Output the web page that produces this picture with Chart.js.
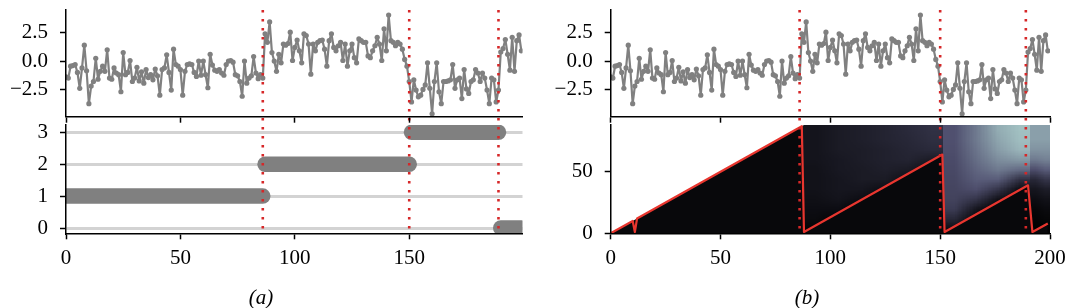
<!DOCTYPE html>
<html>
<head>
<meta charset="utf-8">
<script src="https://cdn.jsdelivr.net/npm/chart.js@4.4.1/dist/chart.umd.min.js"></script>
<style>
  html, body { margin: 0; padding: 0; background: #fff; }
  #fig { position: relative; width: 1075px; height: 308px; overflow: hidden; }
  canvas { position: absolute; }
  .cap { position: absolute; top: 285px; font: italic 21px "Liberation Serif", "DejaVu Serif", serif; line-height: 24px; transform: translateX(-50%); }
</style>
</head>
<body>
<div id="fig">
  <canvas id="aTop" width="540" height="126" style="left:0;top:0"></canvas>
  <canvas id="aBottom" width="540" height="187" style="left:0;top:121px"></canvas>
  <canvas id="bTop" width="535" height="126" style="left:540px;top:0"></canvas>
  <canvas id="bBottom" width="535" height="187" style="left:540px;top:121px"></canvas>
  <div class="cap" style="left:261px">(a)</div>
  <div class="cap" style="left:807px">(b)</div>
</div>
<script>
// observed signal, one value per time step (0..199)
const signal = [
  -1.4, -1.5, -0.45, -0.4, -0.3, -1.0, -2.4, -0.6, 1.4, -0.85,
  -3.75, -2.2, -1.8, 0.25, -1.6, -0.9, -0.45, -0.9, 1.0, -1.5,
  -1.6, -0.6, -1.05, -1.2, -2.7, 0.75, -1.2, -1.0, 0.05, -1.8,
  -1.5, -0.55, -1.75, -0.95, -1.95, -0.75, -1.45, -1.2, -1.65, -0.7,
  -1.3, -3.0, -0.75, -0.6, 0.55, -1.0, -2.55, 1.05, -0.3, -0.45,
  -0.75, -3.0, -0.9, -0.3, -0.25, -0.3, -1.0, -1.35, 0.0, -1.25,
  0.0, -1.2, -2.35, 0.6, -0.35, -0.8, -0.9, -0.75, -1.05, -1.25,
  -0.3, 0.0, 0.05, -0.1, -1.2, -1.3, -1.8, -3.1, 0.0, -1.95,
  -1.5, -1.3, 0.4, -1.05, -1.55, -1.2, -1.5,
  2.4, 1.65, 3.45, 0.75, 0.0, -0.9, 0.6, -0.15, 1.5, 1.4,
  1.55, 2.55, 0.05, 1.2, 1.85, 0.9, -0.15, 2.4, 2.25, 1.5,
  -1.15, 1.5, 0.9, 1.65, 1.8, 1.85, 1.05, -0.45, 1.8, 2.4,
  1.2, 0.9, 1.35, 1.65, 0.05, 1.5, -0.45, 0.9, 1.5, 0.3,
  -0.15, 1.95, 1.8, 1.65, 1.65, 0.45, 0.3, 0.9, 1.35, 2.1,
  1.5, 0.05, 2.85, 0.9, 4.05,
  1.8, 1.65, 1.35, 1.65, 1.5, 1.05, 0.15, -0.45,
  -1.8,
  -3.6, -1.65, -2.55, -3.15, -3.0, -2.5, -2.1, -0.15, -2.4, -4.65,
  -1.8, -0.15, -2.7, -3.75, -1.8, -1.8, -1.75, -1.65, -0.3, -2.4,
  -1.65, -1.5, -3.3, -0.75, -2.45, -2.85, -1.8, -1.65, -0.75, -1.05,
  -1.8, -1.05, -1.5, -2.55, -3.75, -1.5, -1.65, -3.6,
  -2.55, 0.8, 1.1, 1.9, 0.6, -0.8, 2.1, -0.9, 1.8, 2.3, 0.9,
];

const changePoints = [86, 150, 189];

// true regimes (panel a, bottom)
const regimeLevel = [1, 2, 3, 0];
const regimeStart = [0, 87, 151, 190];
const regimeEnd = [86, 150, 189, 199];

// most probable run length (panel b, bottom), vertices of the red line
const runT = [0, 10, 11, 12, 87, 88, 151, 152, 190, 192, 199];
const runR = [0, 10, 1, 12, 87, 1, 64, 1, 39, 1, 8];

// run length posterior, coarse cells (rows: top r=88 -> r=0)
const heatTop = 88;
const heatStart = [0, 87.5, 151.5, 191];
const heatEnd = [87.5, 151.5, 191, 200];
const heatA = [[0.03]];
const heatB = [
  [0.09, 0.12, 0.14, 0.16, 0.19, 0.22],
  [0.09, 0.12, 0.14, 0.16, 0.18, 0.21],
  [0.09, 0.12, 0.13, 0.15, 0.17, 0.19],
  [0.09, 0.11, 0.13, 0.15, 0.16, 0.12],
  [0.08, 0.11, 0.12, 0.14, 0.12, 0.05],
  [0.08, 0.10, 0.12, 0.12, 0.06, 0.00],
  [0.08, 0.10, 0.10, 0.06, 0.00, 0.00],
  [0.07, 0.09, 0.06, 0.00, 0.00, 0.00],
  [0.06, 0.06, 0.00, 0.00, 0.00, 0.00],
  [0.05, 0.02, 0.00, 0.00, 0.00, 0.00],
  [0.02, 0.00, 0.00, 0.00, 0.00, 0.00],
];
const heatC = [
  [0.36, 0.50, 0.66, 0.73],
  [0.36, 0.50, 0.64, 0.72],
  [0.35, 0.48, 0.61, 0.69],
  [0.34, 0.46, 0.56, 0.60],
  [0.33, 0.43, 0.50, 0.45],
  [0.32, 0.40, 0.40, 0.22],
  [0.31, 0.35, 0.24, 0.06],
  [0.30, 0.24, 0.08, 0.00],
  [0.27, 0.10, 0.00, 0.00],
  [0.18, 0.03, 0.00, 0.00],
  [0.06, 0.00, 0.00, 0.00],
];
const heatD = [
  [0.62, 0.62], [0.62, 0.62], [0.58, 0.58], [0.50, 0.52], [0.35, 0.40], [0.18, 0.24],
  [0.10, 0.13], [0.06, 0.08], [0.03, 0.05], [0.02, 0.03], [0.00, 0.01],
];
const heatGrids = [heatA, heatB, heatC, heatD];

// tick labels
const xTicksA = [0, 50, 100, 150];
const xTicksB = [0, 50, 100, 150, 200];
const yTicksSignal = [-2.5, 0, 2.5];
const yTicksRegime = [0, 1, 2, 3];
const yTicksRun = [0, 50];

const GRAY = "#808080";
const RED = "#d62728";
const INK = "#000";
const FONT = { family: "'Liberation Serif', 'DejaVu Serif', serif", size: 21 };
const SPLIT = 121; // page y where the upper canvases hand over to the lower ones

// matplotlib "bone" colormap
const boneStops = [
  [0, [0, 0, 0]],
  [0.365, [81, 81, 113]],
  [0.746, [166, 198, 198]],
  [1, [255, 255, 255]],
];
function bone(v) {
  for (let i = 1; i < boneStops.length; i++) {
    const [v1, c1] = boneStops[i];
    const [v0, c0] = boneStops[i - 1];
    if (v <= v1) {
      const f = (v - v0) / (v1 - v0);
      return c0.map((c, k) => Math.round(c + (c1[k] - c) * f));
    }
  }
  return [255, 255, 255];
}

const fixedTicks = (values) => (s) => { s.ticks = values.map((v) => ({ value: v })); };
const fmtSigned = (v) => (v < 0 ? "\u2212" : "") + Math.abs(v).toFixed(1);

function xAxis(max, ticks, height, labels) {
  return {
    type: "linear", min: 0, max,
    afterBuildTicks: fixedTicks(ticks),
    afterFit: (s) => { s.height = height; s.paddingLeft = 0; s.paddingRight = 0; },
    ticks: { display: labels, font: FONT, color: INK, padding: 6.5, maxRotation: 0, autoSkip: false, callback: (v) => String(v) },
    grid: { drawOnChartArea: false, tickLength: 6, tickColor: INK, tickWidth: 1.5, z: 1 },
    border: { color: INK, width: 1.5, z: 1 },
  };
}

function yAxis(min, max, ticks, width, fmt, grid) {
  return {
    type: "linear", min, max,
    afterBuildTicks: fixedTicks(ticks),
    afterFit: (s) => { s.width = width; s.paddingTop = 0; s.paddingBottom = 0; },
    ticks: { font: FONT, color: INK, padding: 12, callback: fmt },
    grid: Object.assign({ drawOnChartArea: false, tickLength: 6, tickColor: INK, tickWidth: 1.5, z: 1 }, grid || {}),
    border: { color: INK, width: 1.5, z: 1 },
  };
}

const changeLines = {
  id: "changeLines",
  afterDatasetsDraw(chart, args, opts) {
    const { ctx, chartArea, scales: { x } } = chart;
    const y0 = opts.upper ? chartArea.top : 0;
    const y1 = opts.upper ? SPLIT : chartArea.bottom;
    ctx.save();
    ctx.strokeStyle = RED;
    ctx.lineWidth = 2.6;
    ctx.setLineDash([2.6, 6.4]);
    ctx.lineDashOffset = opts.phase || 0;
    changePoints.forEach((cp) => {
      const px = x.getPixelForValue(cp);
      ctx.beginPath();
      ctx.moveTo(px, y0);
      ctx.lineTo(px, y1);
      ctx.stroke();
    });
    ctx.restore();
  },
};

const heatmap = {
  id: "heatmap",
  beforeDatasetsDraw(chart) {
    const { ctx, chartArea: a, scales: { x, y } } = chart;
    ctx.save();
    ctx.beginPath();
    ctx.rect(a.left, a.top, a.width, a.height);
    ctx.clip();
    ctx.imageSmoothingEnabled = true;
    heatGrids.forEach((grid, k) => {
      const rows = grid.length;
      const cols = grid[0].length;
      const off = document.createElement("canvas");
      off.width = cols;
      off.height = rows;
      const octx = off.getContext("2d");
      const img = octx.createImageData(cols, rows);
      grid.forEach((row, i) => row.forEach((v, j) => {
        img.data.set([...bone(v), 255], (i * cols + j) * 4);
      }));
      octx.putImageData(img, 0, 0);
      const x0 = Math.round(x.getPixelForValue(heatStart[k]));
      const x1 = Math.round(x.getPixelForValue(heatEnd[k]));
      const y0 = y.getPixelForValue(heatTop);
      const y1 = y.getPixelForValue(0);
      ctx.drawImage(off, x0, y0, x1 - x0, y1 - y0);
    });
    ctx.restore();
  },
};

const baseOptions = (padding, scales, plugins) => ({
  responsive: false,
  devicePixelRatio: 1,
  animation: false,
  events: [],
  layout: { padding, autoPadding: false },
  scales,
  plugins: Object.assign({ legend: { display: false }, tooltip: { enabled: false } }, plugins),
});

const signalPoints = signal.map((v, t) => ({ x: t, y: v }));

function signalChart(id, plotLeft, plotRight, width, xMax, xTicks) {
  return new Chart(document.getElementById(id), {
    type: "line",
    data: {
      datasets: [{
        data: signalPoints,
        borderColor: GRAY,
        borderWidth: 2.2,
        borderJoinStyle: "round",
        borderCapStyle: "round",
        pointRadius: 2.6,
        pointBackgroundColor: GRAY,
        pointBorderWidth: 0,
        tension: 0,
      }],
    },
    options: baseOptions(
      { top: 10, right: width - plotRight, bottom: 0, left: 0 },
      {
        x: xAxis(xMax, xTicks, 126 - 116.7, false),
        y: yAxis(-4.9, 4.5, yTicksSignal, plotLeft, fmtSigned),
      },
      { changeLines: { upper: true } }
    ),
    plugins: [changeLines],
  });
}

signalChart("aTop", 66, 522.5, 540, 199.5, xTicksA);
signalChart("bTop", 70.7, 510, 535, 200, xTicksB);

// panel (a), regimes
new Chart(document.getElementById("aBottom"), {
  type: "line",
  data: {
    datasets: regimeLevel.map((lvl, i) => ({
      data: [{ x: regimeStart[i], y: lvl }, { x: regimeEnd[i], y: lvl }],
      borderColor: GRAY,
      borderWidth: 15.5,
      borderCapStyle: "round",
      pointRadius: 0,
    })),
  },
  options: baseOptions(
    { top: 4, right: 540 - 522.5, bottom: 0, left: 0 },
    {
      x: xAxis(199.5, xTicksA, 187 - 112.3, true),
      y: yAxis(-0.166, 3.23, yTicksRegime, 66, (v) => String(v),
        { drawOnChartArea: true, color: "#d3d3d3", lineWidth: 3, z: -1 }),
    },
    { changeLines: { upper: false, phase: (SPLIT - 10) % 9 } }
  ),
  plugins: [changeLines],
});

// panel (b), run length posterior
new Chart(document.getElementById("bBottom"), {
  type: "line",
  data: {
    datasets: [
      {
        data: runT.map((t, i) => ({ x: t, y: runR[i] })),
        borderColor: "#e8362f",
        borderWidth: 2.2,
        borderJoinStyle: "round",
        pointRadius: 0,
        tension: 0,
        fill: "origin",
        backgroundColor: "#08080b",
      },
      {
        data: [{ x: 0, y: 0 }, { x: heatTop, y: heatTop }],
        borderColor: "rgba(0,0,0,0)",
        borderWidth: 0,
        pointRadius: 0,
        fill: "end",
        backgroundColor: "#fff",
      },
    ],
  },
  options: baseOptions(
    { top: 4, right: 535 - 510, bottom: 0, left: 0 },
    {
      x: xAxis(200, xTicksB, 187 - 112.3, true),
      y: yAxis(0, heatTop, yTicksRun, 70.7, (v) => String(v)),
    },
    { changeLines: { upper: false, phase: (SPLIT - 10) % 9 } }
  ),
  plugins: [heatmap, changeLines],
});
</script>
</body>
</html>
